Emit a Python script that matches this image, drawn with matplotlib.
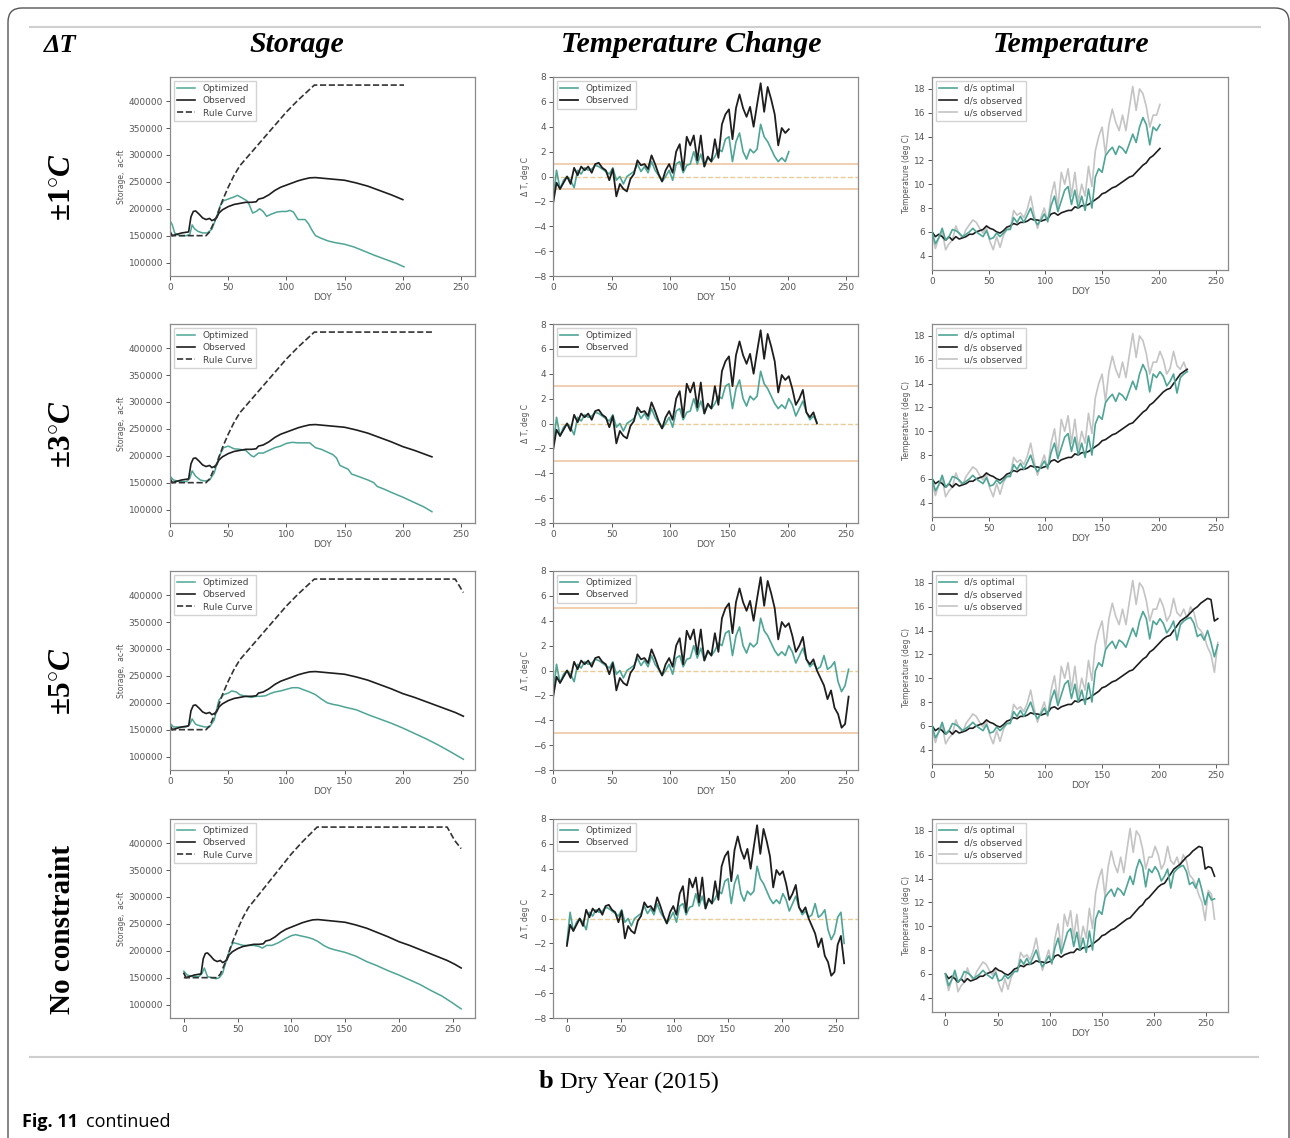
import numpy as np
import matplotlib
matplotlib.use("Agg")
import matplotlib.pyplot as plt
from matplotlib.patches import FancyBboxPatch
from matplotlib.transforms import IdentityTransform

W, H = 1290, 1138

# ---- storage (ac-ft) ----
obs_st_day = [0, 2, 5, 10, 16, 18, 20, 22, 25, 28, 31, 34, 36, 38, 40, 42, 45, 50, 55, 60,
              65, 70, 74, 76, 80, 85, 90, 95, 100, 105, 110, 115, 120, 125, 130, 140, 150,
              160, 170, 180, 190, 200, 210, 220, 225, 235, 245, 252, 258]
obs_st = [158000, 150000, 152000, 155000, 157000, 185000, 195000, 196000, 190000, 183000,
          180000, 182000, 178000, 180000, 183000, 192000, 198000, 204000, 208000, 210000,
          212000, 212000, 213000, 218000, 220000, 226000, 234000, 240000, 244000, 248000,
          252000, 255000, 257500, 258000, 257000, 255000, 253000, 248000, 242000, 234000,
          226000, 217000, 210000, 202000, 198000, 190000, 182000, 175000, 168000]

rule_day = [0, 31, 34, 40, 45, 50, 55, 60, 70, 80, 90, 100, 110, 124, 201, 225, 245, 252, 258]
rule = [150000, 150000, 157000, 185000, 215000, 240000, 262000, 280000, 305000, 330000,
        355000, 380000, 402000, 430000, 430000, 430000, 430000, 405000, 390000]

opt_st_day = [
    [0, 2, 4, 8, 14, 17, 19, 21, 24, 28, 32, 36, 40, 43, 46, 50, 55, 58, 62, 66, 68, 71, 74,
     77, 80, 83, 87, 92, 96, 100, 103, 106, 110, 116, 119, 122, 125, 130, 136, 142, 150, 158,
     166, 175, 185, 195, 201],
    [0, 3, 8, 14, 17, 19, 22, 26, 30, 34, 38, 42, 46, 50, 55, 60, 65, 70, 72, 76, 80, 85, 90,
     95, 100, 105, 110, 115, 120, 125, 130, 135, 140, 143, 146, 150, 153, 156, 160, 165, 170,
     175, 178, 185, 190, 200, 210, 218, 225],
    [0, 3, 8, 14, 17, 19, 22, 26, 30, 34, 38, 42, 46, 50, 53, 57, 60, 65, 70, 74, 78, 82, 86,
     90, 95, 100, 105, 110, 115, 120, 125, 130, 135, 140, 145, 150, 160, 170, 180, 190, 200,
     210, 220, 230, 240, 252],
    [0, 3, 8, 14, 17, 19, 22, 26, 30, 33, 36, 40, 43, 46, 50, 55, 60, 65, 70, 73, 77, 82, 88,
     94, 100, 104, 108, 115, 120, 125, 130, 135, 140, 150, 160, 170, 180, 190, 200, 210, 220,
     230, 240, 250, 258],
]
opt_st = [
    [178000, 170000, 155000, 150000, 150000, 152000, 170000, 163000, 158000, 155000, 155000,
     162000, 185000, 205000, 215000, 218000, 222000, 225000, 220000, 215000, 208000, 192000,
     195000, 200000, 195000, 186000, 190000, 194000, 195000, 195000, 197000, 194000, 180000,
     180000, 172000, 160000, 150000, 145000, 140000, 137000, 134000, 129000, 122000, 114000,
     106000, 98000, 92000],
    [162000, 155000, 152000, 152000, 158000, 172000, 162000, 155000, 153000, 155000, 168000,
     198000, 215000, 218000, 213000, 212000, 210000, 200000, 198000, 205000, 205000, 210000,
     215000, 218000, 223000, 225000, 224000, 224000, 224000, 215000, 212000, 207000, 202000,
     196000, 182000, 178000, 175000, 166000, 163000, 159000, 155000, 150000, 143000, 137000,
     132000, 123000, 113000, 105000, 96000],
    [162000, 155000, 155000, 155000, 160000, 170000, 160000, 157000, 155000, 155000, 168000,
     205000, 215000, 218000, 222000, 220000, 215000, 212000, 210000, 212000, 212000, 213000,
     217000, 220000, 222000, 225000, 228000, 228000, 224000, 220000, 215000, 207000, 200000,
     197000, 195000, 192000, 187000, 178000, 170000, 162000, 153000, 143000, 133000, 122000,
     110000, 95000],
    [162000, 155000, 152000, 152000, 158000, 168000, 152000, 150000, 148000, 150000, 158000,
     185000, 205000, 215000, 213000, 210000, 210000, 210000, 208000, 205000, 210000, 210000,
     215000, 222000, 228000, 230000, 228000, 225000, 222000, 217000, 210000, 205000, 202000,
     197000, 190000, 180000, 172000, 163000, 155000, 146000, 137000, 126000, 116000, 103000,
     92000],
]

# ---- daily series sampled every 3 days (DOY 0..258) ----
doy = np.arange(0, 259, 3)

dT_obs = [-2.2, -0.5, -1.0, -0.5, 0.0, -0.6, 0.7, 0.1, 0.8, 0.5,
          0.8, 0.3, 1.0, 1.1, 0.7, 0.5, -0.3, 0.6, -1.6, -0.6,
          -1.0, -1.2, -0.2, 0.2, 1.3, 0.9, 1.0, 0.6, 1.7, 1.0,
          0.2, -0.4, 0.5, 1.0, 0.3, 2.0, 2.6, 0.5, 3.2, 2.5,
          3.3, 1.3, 3.3, 0.8, 1.6, 1.2, 3.0, 1.5, 4.2, 5.0,
          5.4, 3.0, 5.5, 6.6, 5.5, 4.8, 5.6, 4.0, 5.8, 7.5,
          5.2, 7.2, 6.2, 5.0, 2.5, 3.9, 3.5, 3.8, 2.8, 1.5,
          2.0, 2.7, 0.9, 0.5, 0.9, 0.0, -0.6, -1.2, -2.3, -1.6,
          -3.0, -3.5, -4.6, -4.3, -2.1, -1.4, -3.6]

dT_opt = [-2.0, 0.5, -1.0, -0.3, 0.0, -0.3, -0.9, 0.5, 0.2, 0.7,
          0.5, 0.6, 0.9, 0.8, 0.6, 0.4, 0.2, 0.7, -0.3, 0.0,
          -0.6, 0.0, 0.2, 0.4, 1.0, 0.4, 0.8, 0.3, 1.2, 0.5,
          0.1, -0.4, 0.0, 0.5, -0.3, 1.0, 1.2, 0.3, 0.9, 1.0,
          2.0, 1.0, 1.8, 0.8, 1.5, 1.2, 1.6, 2.2, 2.0, 3.0,
          3.2, 1.2, 2.8, 3.5, 2.0, 1.4, 2.2, 1.9, 2.2, 4.2,
          3.2, 2.8, 2.2, 1.6, 1.2, 1.5, 1.2, 2.0, 1.5, 0.6,
          1.2, 1.8, 0.9, 0.3, 0.6, 0.1, 0.3, 1.2, 0.1, 0.3,
          0.7, -0.9, -1.7, -1.2, 0.1, 0.5, -2.0]

us_obs = [5.8, 4.6, 5.5, 6.0, 4.5, 5.0, 5.3, 6.5, 5.8, 5.5,
          6.2, 6.6, 7.0, 6.8, 6.3, 5.9, 6.4, 5.2, 4.5, 5.6,
          4.7, 5.7, 6.2, 6.3, 7.8, 7.4, 7.6, 7.2, 7.9, 9.0,
          7.5, 6.3, 7.2, 8.0, 6.8, 9.0, 10.2, 8.0, 11.0, 10.0,
          11.3, 9.0, 11.0, 8.5, 10.0, 9.0, 11.5, 9.8, 12.8, 14.0,
          14.8, 12.5, 15.0, 16.3, 15.2, 14.5, 15.8, 14.5, 16.4, 18.2,
          16.2, 18.0, 17.6, 16.5, 14.8, 15.8, 15.8, 16.7, 16.0, 14.8,
          15.3, 16.7, 15.5, 15.2, 15.8, 15.0, 16.0, 15.5, 14.3, 14.0,
          13.5, 12.6, 12.0, 10.5, 13.0, 12.7, 10.6]

ds_obs = [6.0, 5.6, 5.8, 5.6, 5.3, 5.6, 5.3, 5.6, 5.4, 5.5,
          5.6, 5.8, 5.8, 6.0, 6.1, 6.2, 6.5, 6.3, 6.2, 6.0,
          5.9, 6.1, 6.4, 6.5, 6.7, 6.6, 6.8, 6.8, 6.9, 7.1,
          7.0, 7.0, 6.9, 7.0, 7.1, 7.5, 7.6, 7.4, 7.6, 7.7,
          7.8, 7.8, 8.1, 8.0, 8.2, 8.2, 8.3, 8.5, 8.7, 8.9,
          9.2, 9.3, 9.5, 9.7, 9.8, 10.0, 10.2, 10.4, 10.6, 10.7,
          11.0, 11.3, 11.6, 11.8, 12.2, 12.4, 12.7, 13.0, 13.3, 13.5,
          13.6, 14.0, 14.4, 14.8, 15.0, 15.2, 15.5, 15.8, 16.0, 16.3,
          16.5, 16.7, 16.6, 14.8, 15.0, 14.9, 14.2]

ds_opt = [6.0, 5.0, 5.5, 6.3, 5.3, 5.6, 6.2, 6.1, 5.9, 5.6,
          5.8, 6.0, 6.3, 6.0, 5.8, 5.6, 6.1, 5.4, 5.5, 5.9,
          5.6, 5.9, 6.2, 6.2, 7.2, 6.8, 7.3, 6.8, 7.4, 8.0,
          7.1, 6.6, 7.0, 7.5, 6.9, 8.2, 9.0, 7.7, 8.6, 9.5,
          9.8, 8.3, 9.5, 8.0, 9.0, 7.8, 9.6, 8.0, 10.6, 11.3,
          11.0, 12.4, 12.8, 13.1, 12.5, 13.2, 13.0, 12.6, 13.4, 14.2,
          13.5, 14.8, 15.6, 15.0, 13.3, 14.8, 14.5, 15.0, 14.6, 13.8,
          14.2, 14.8, 13.2, 14.5, 14.8, 15.0, 15.1, 14.6, 13.5, 13.7,
          13.2, 14.0, 13.0, 11.8, 12.8, 12.2, 12.3]

row_labels = [r"$\pm1^{\circ}C$", r"$\pm3^{\circ}C$", r"$\pm5^{\circ}C$", "No constraint"]
row_end = [201, 225, 252, 258]
dT_limit = [1, 3, 5, None]

TEAL = "#4ea596"
BLACK = "#1e1e1e"
GREY = "#c4c4c4"
LIMC = "#efc6a4"
ZEROC = "#e9cc98"

plt.rcParams["mathtext.fontset"] = "custom"
plt.rcParams["mathtext.rm"] = "Liberation Serif:bold"
plt.rcParams["mathtext.it"] = "Liberation Serif:bold:italic"
plt.rcParams["mathtext.bf"] = "Liberation Serif:bold"

fig = plt.figure(figsize=(W / 100, H / 100), dpi=100)
fig.patch.set_facecolor("white")


def px_axes(x0, y0, x1, y1):
    return fig.add_axes([x0 / W, 1 - y1 / H, (x1 - x0) / W, (y1 - y0) / H])


def style(ax):
    for s in ax.spines.values():
        s.set_color("#8a8a8a")
        s.set_linewidth(0.9)
    ax.tick_params(labelsize=6.5, colors="#555555", length=3, width=0.7, pad=2)
    ax.xaxis.label.set_color("#555555")
    ax.yaxis.label.set_color("#555555")


def legend(ax):
    lg = ax.legend(loc="upper left", fontsize=6.5, frameon=True, framealpha=0.85,
                   edgecolor="#cccccc", fancybox=False, borderpad=0.4, labelspacing=0.35,
                   handlelength=2.0, borderaxespad=0.4)
    for t in lg.get_texts():
        t.set_color("#444444")


tops = [77, 324, 571, 819]
for r in range(4):
    top = tops[r]
    end = row_end[r]
    last = r == 3

    # storage
    ax = px_axes(170, top, 475, top + 199)
    od = np.array(opt_st_day[r])
    ax.plot(od, opt_st[r], color=TEAL, lw=1.1, label="Optimized")
    sd = np.array(obs_st_day)
    m = sd <= end
    ax.plot(sd[m], np.array(obs_st)[m], color=BLACK, lw=1.2, label="Observed")
    rd = np.array(rule_day)
    m = rd <= end
    ax.plot(rd[m], np.array(rule)[m], color="#333333", lw=1.2, ls="--", label="Rule Curve")
    ax.set_ylim(75000, 445000)
    ax.set_yticks(np.arange(100000, 400001, 50000))
    ax.ticklabel_format(axis="y", style="plain", useOffset=False)
    if not last:
        ax.set_xlim(0, 262)
    ax.set_xticks([0, 50, 100, 150, 200, 250])
    ax.set_xlabel("DOY", fontsize=6.5, labelpad=1)
    ax.set_ylabel("Storage,  ac-ft", fontsize=5.5, labelpad=2)
    style(ax)
    legend(ax)

    # temperature change
    ax = px_axes(553, top, 858, top + 199)
    m = doy <= end
    ax.plot(doy[m], np.array(dT_opt)[m], color=TEAL, lw=1.2, label="Optimized")
    ax.plot(doy[m], np.array(dT_obs)[m], color=BLACK, lw=1.3, label="Observed")
    ax.axhline(0, color=ZEROC, lw=1.0, ls="--", zorder=0)
    if dT_limit[r] is not None:
        ax.axhline(dT_limit[r], color=LIMC, lw=1.2, zorder=0)
        ax.axhline(-dT_limit[r], color=LIMC, lw=1.2, zorder=0)
    ax.set_ylim(-8, 8)
    ax.set_yticks(np.arange(-8, 9, 2))
    if not last:
        ax.set_xlim(0, 260)
    ax.set_xticks([0, 50, 100, 150, 200, 250])
    ax.set_xlabel("DOY", fontsize=6.5, labelpad=1)
    ax.set_ylabel("Δ T, deg C", fontsize=5.5, labelpad=2)
    style(ax)
    legend(ax)

    # temperature
    ax = px_axes(932, top, 1228, top + 193)
    ax.plot(doy[m], np.array(ds_opt)[m], color=TEAL, lw=1.2, label="d/s optimal", zorder=3)
    ax.plot(doy[m], np.array(ds_obs)[m], color=BLACK, lw=1.2, label="d/s observed", zorder=2)
    ax.plot(doy[m], np.array(us_obs)[m], color=GREY, lw=1.2, label="u/s observed", zorder=1)
    ax.set_ylim(2.8, 19.0)
    ax.set_yticks(np.arange(4, 19, 2))
    if not last:
        ax.set_xlim(0, 261)
    ax.set_xticks([0, 50, 100, 150, 200, 250])
    ax.set_xlabel("DOY", fontsize=6.5, labelpad=1)
    ax.set_ylabel("Temperature (deg C)", fontsize=5.5, labelpad=2)
    style(ax)
    legend(ax)

    # row label
    cy = top + 110
    fig.text(63 / W, 1 - cy / H, row_labels[r], rotation=90, ha="center", va="center",
             fontsize=22.5 if r < 3 else 21, family="Liberation Serif", weight="bold",
             color="black")

# headers
hdr = dict(family="Liberation Serif", weight="bold", style="italic", fontsize=21.5,
           ha="center", va="center", color="black")
fig.text(60 / W, 1 - 45 / H, "ΔT", **dict(hdr, fontsize=19))
fig.text(297 / W, 1 - 45 / H, "Storage", **hdr)
fig.text(691 / W, 1 - 45 / H, "Temperature Change", **hdr)
fig.text(1071 / W, 1 - 45 / H, "Temperature", **hdr)

# separators
fig.add_artist(plt.Line2D([30 / W, 1260 / W], [1 - 27 / H, 1 - 27 / H], color="#cfcfcf", lw=1.5))
fig.add_artist(plt.Line2D([30 / W, 1258 / W], [1 - 1057 / H, 1 - 1057 / H], color="#cfcfcf", lw=1.5))

# caption
fig.text(553 / W, 1 - 1082 / H, "b", family="Liberation Serif", weight="bold", fontsize=19,
         ha="right", va="center")
fig.text(560 / W, 1 - 1082 / H, "Dry Year (2015)", family="Liberation Serif", fontsize=17.5,
         ha="left", va="center")
t1 = fig.text(22 / W, 1 - 1122 / H, "Fig. 11", family="Open Sans", weight="bold",
              fontsize=13, ha="left", va="center")
fig.canvas.draw()
bb = t1.get_window_extent()
fig.text((bb.x1 + 8) / W, 1 - 1122 / H, "continued", family="Open Sans", fontsize=13,
         ha="left", va="center")

# outer frame
frame = FancyBboxPatch((8, -30), 1281, H - 8 + 30,
                       boxstyle="round,pad=0,rounding_size=14",
                       transform=IdentityTransform(), fill=False, ec="#555555", lw=1.0)
fig.patches.append(frame)

fig.savefig("out.png", dpi=100)
